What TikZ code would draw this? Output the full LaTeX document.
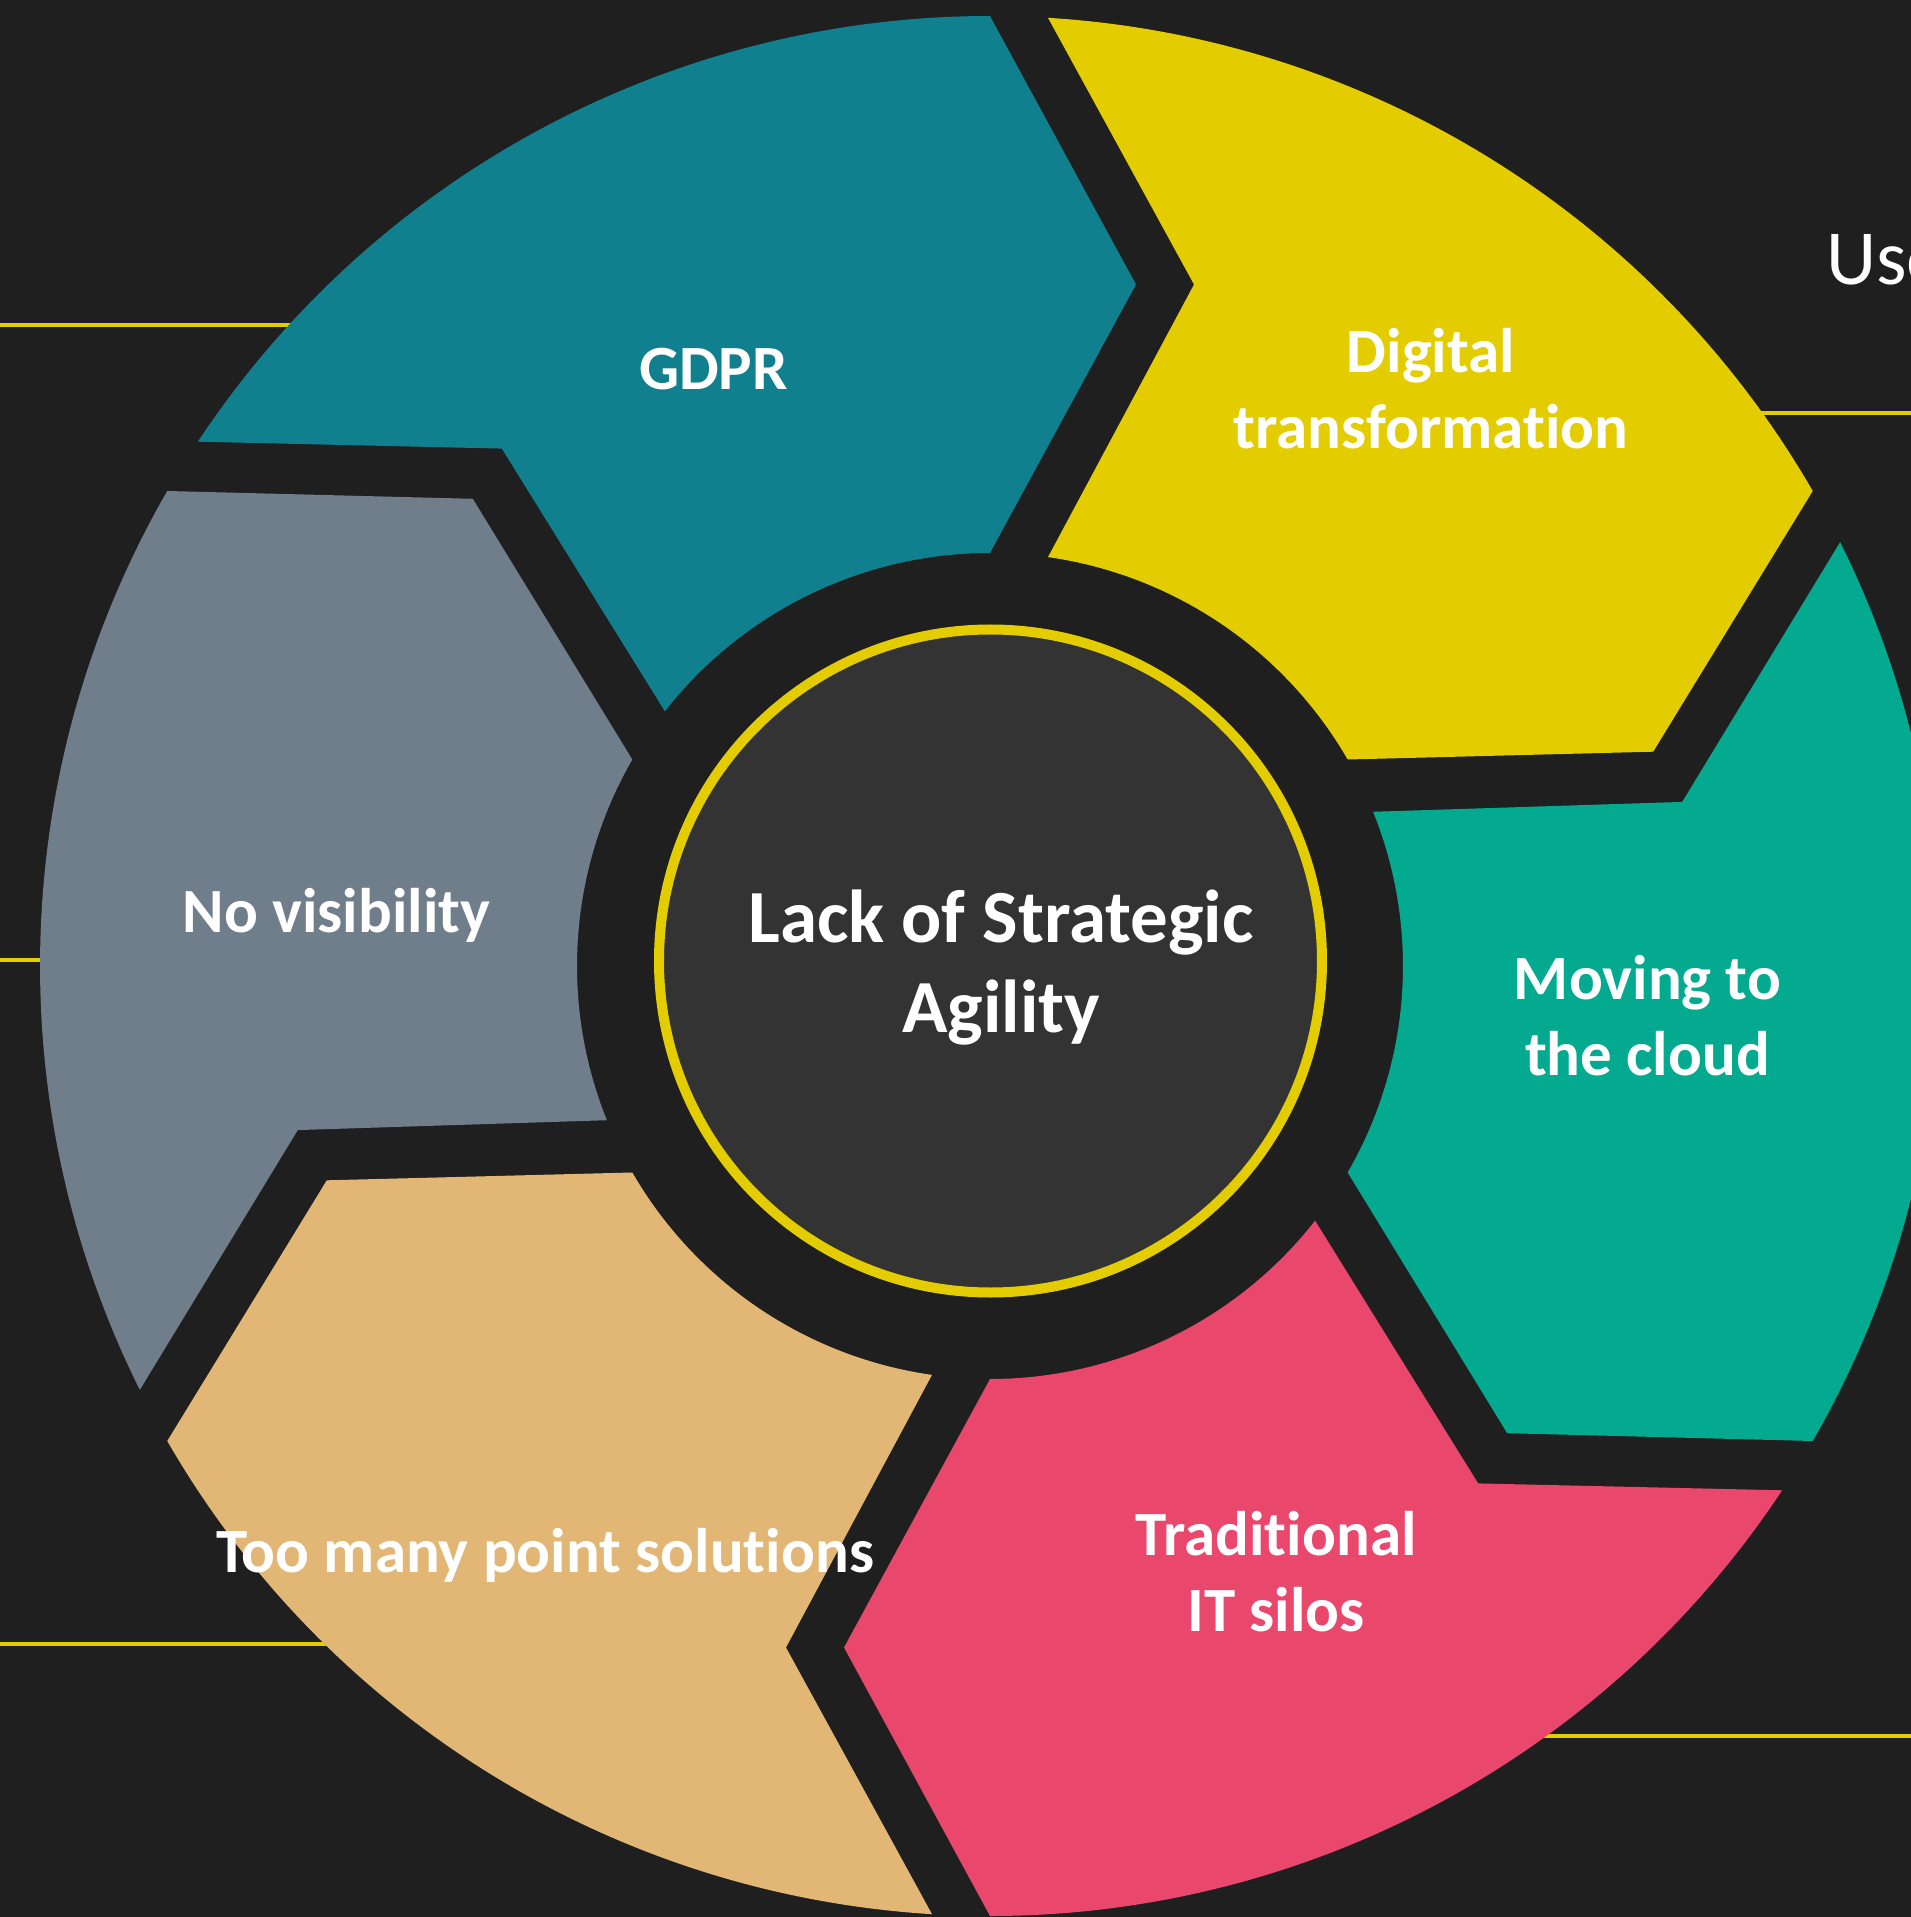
\documentclass[tikz,border=0pt]{standalone}
\usepackage{fontspec}
\setmainfont{Carlito}[Ligatures=NoCommon]
\usetikzlibrary{calc,positioning}
\usepackage{xcolor}
\definecolor{my_bg}{RGB}{31,31,31}
\definecolor{my_hub}{RGB}{51,51,51}
\definecolor{my_teal}{RGB}{16,127,142}
\definecolor{my_yellow}{RGB}{227,204,0}
\definecolor{my_green}{RGB}{4,170,144}
\definecolor{my_pink}{RGB}{233,71,108}
\definecolor{my_tan}{RGB}{226,183,118}
\definecolor{my_slate}{RGB}{112,126,140}
\tikzset{
  hub/.style     = {circle, fill=my_hub, draw=my_yellow, line width=5pt, minimum size=331.5pt, inner sep=0pt},
  leader/.style  = {my_yellow, line width=2pt},
  seglbl/.style  = {text=white, align=center, anchor=base, inner sep=0pt, font=\fontsize{31.5}{38}\selectfont\bfseries},
  hublbl/.style  = {seglbl, font=\fontsize{37.5}{45}\selectfont\bfseries},
  sidelbl/.style = {text=white, anchor=base west, inner sep=0pt, font=\fontsize{39}{47}\selectfont}
}
\begin{document}
\begin{tikzpicture}[x=0.5pt, y=0.5pt]
    % Page and background
    \useasboundingbox (-990,-951) rectangle (921,966);
    \fill[my_bg] (-990,-951) rectangle (921,966);

    % Ring sizes
    \def\rOut{950}    % outer radius
    \def\rIn{413}     % inner radius
    \def\rMid{681.5}  % radius of the chevron tips
    \def\tipOff{146}  % how far a tip sticks out
    \def\gapOff{58}   % width of the gaps
    \pgfmathsetmacro{\aOut}{asin(\gapOff/\rOut)}
    \pgfmathsetmacro{\aIn}{asin(\gapOff/\rIn)}

    % ----- Leader lines (under the ring) -----
    \draw[leader] (-990,641) -- (-680,641);
    \draw[leader] (-990,6) -- (-930,6);
    \draw[leader] (-990,-678) -- (-645,-678);
    \draw[leader] (921,553) -- (755,553);
    \draw[leader] (921,-770) -- (540,-770);

    % ----- Chevron segments, clockwise -----
    \foreach \lead/\col in {90/my_teal, 30/my_yellow, -30/my_green, -90/my_pink, -150/my_tan, 150/my_slate}{
      \pgfmathsetmacro{\trail}{\lead+60}
      \fill[\col] (\trail-\aOut:\rOut) arc[start angle=\trail-\aOut, end angle=\lead, radius=\rOut]
        -- ($(\lead:\rMid)+(\lead-90:\tipOff)$) -- (\lead:\rIn)
        arc[start angle=\lead, end angle=\trail-\aIn, radius=\rIn]
        -- ($(\trail:\rMid)+(\trail-90:\tipOff+\gapOff)$) -- cycle;
    }

    % ----- Hub (base = last line) -----
    \node[hub] (hub) at (0.5,5) {};
    \node[hublbl] (hubtext) at (11,-66) {Lack of Strategic\\Agility};

    % ----- Segment labels -----
    \node[seglbl] (gdpr)       at (-276.5,576) {GDPR};
    \node[seglbl] (digital)    at (441,517)    {Digital\\transformation};
    \node[seglbl] (cloud)      at (657.5,-109) {Moving to\\the cloud};
    \node[seglbl] (silos)      at (286,-665)   {Traditional\\IT silos};
    \node[seglbl] (points)     at (-445,-606)  {Too many point solutions};
    \node[seglbl] (visibility) at (-653.5,34)  {No visibility};

    % ----- Side text -----
    \node[sidelbl] (usecase) at (836,681) {Use};
\end{tikzpicture}
\end{document}
